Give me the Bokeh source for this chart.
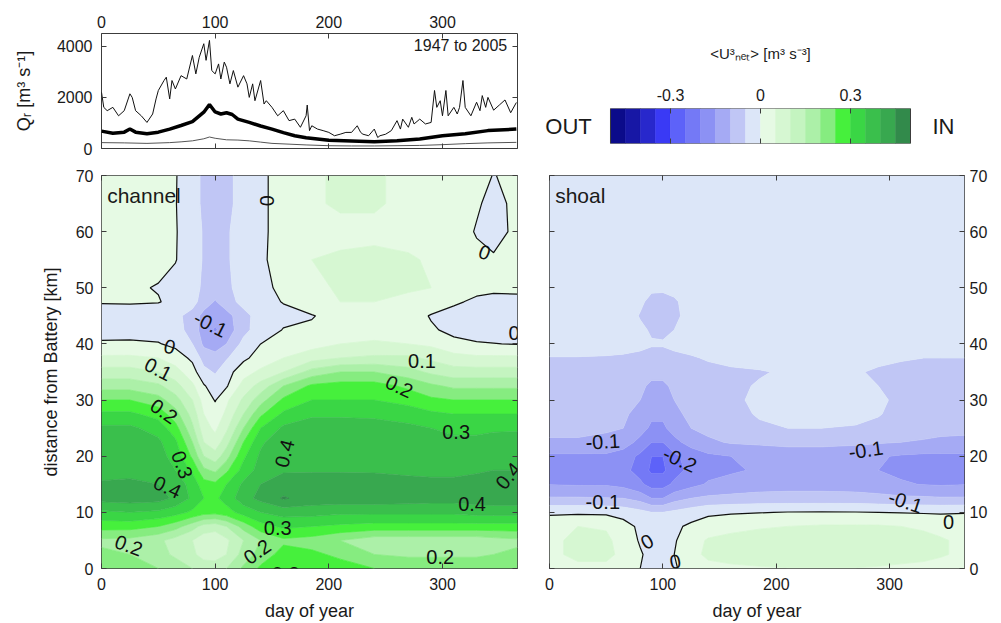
import numpy as np
from bokeh.plotting import figure
from bokeh.models import LinearAxis, Range1d, FixedTicker
from bokeh.layouts import row, column
from bokeh.embed import file_html
from bokeh.resources import INLINE
from bokeh.core.properties import value

FONT = "Liberation Sans"

# ---------------- river discharge Q_r (top panel) ----------------
q_max_day = [0,2,5,10,15,20,25,27,30,35,40,45,48,50,55,57,60,62,65,70,75,80,83,86,90,92,95,97,100,103,
             105,108,110,113,116,120,125,128,130,133,135,140,143,145,150,155,160,165,170,175,180,181,183,185,190,195,200,205,210,215,
             220,225,228,230,235,240,243,245,250,255,260,263,265,270,273,275,280,285,290,293,295,298,300,303,305,310,313,315,318,320,
             325,330,333,335,338,340,345,350,355,360,365]
q_max = [2200,1610,1480,1610,1280,1480,2140,2000,1480,1280,1020,1350,1940,2270,2660,2790,1940,2660,2330,2850,
         2720,3640,2920,3570,4100,3450,4230,3050,2920,3310,2720,3380,3180,2530,3050,2400,2850,2530,2000,2530,
         1870,2660,1740,1870,1610,1280,1480,1090,1150,830,1280,1700,700,890,760,700,630,500,560,630,
         630,890,630,560,500,760,430,500,560,700,1090,760,1150,830,1220,960,1150,960,1020,2270,
         1610,1870,1280,2270,1280,1610,1350,1610,2660,1610,1280,1810,1480,2070,1610,2000,1500,1700,1900,1400,1800]
q_mean_day = [0,10,20,25,30,40,50,60,70,80,90,95,100,105,110,115,120,130,140,150,160,170,180,200,220,240,260,280,300,320,340,365]
q_mean = [680,600,640,760,640,580,640,760,900,1050,1420,1720,1430,1350,1400,1330,1150,1020,880,760,620,500,420,320,290,260,300,370,500,580,700,760]
q_min_day = [0,20,40,60,70,80,90,95,100,110,120,130,140,150,165,180,200,220,240,260,280,300,320,340,365]
q_min = [230,220,200,230,260,300,380,450,400,340,330,300,250,200,170,140,110,100,100,110,120,150,190,220,240]

# ---------------- <U^3_net> grids (day of year x distance) ----------------
grid_day = [0,25,50,65,80,90,100,110,125,140,160,185,210,240,270,290,310,330,345,366]
grid_km = [0,2.5,5,7.5,10,12.5,15,17.5,20,22.5,25,27.5,30,32.5,35,37.5,40,42.5,45,47.5,50,55,60,65,70]

channel_u3 = [
    [0.24,0.23,0.20,0.18,0.15,0.13,0.13,0.15,0.21,0.26,0.30,0.29,0.27,0.25,0.24,0.24,0.24,0.24,0.24,0.24],
    [0.21,0.20,0.17,0.14,0.11,0.08,0.075,0.10,0.17,0.22,0.27,0.26,0.24,0.20,0.19,0.19,0.19,0.19,0.20,0.21],
    [0.19,0.185,0.16,0.13,0.10,0.07,0.065,0.09,0.15,0.20,0.24,0.23,0.20,0.17,0.17,0.17,0.17,0.17,0.18,0.19],
    [0.27,0.27,0.25,0.22,0.17,0.13,0.12,0.15,0.22,0.28,0.31,0.30,0.29,0.28,0.28,0.28,0.28,0.28,0.28,0.28],
    [0.34,0.35,0.34,0.32,0.29,0.27,0.265,0.28,0.32,0.35,0.37,0.37,0.36,0.36,0.36,0.36,0.36,0.37,0.37,0.37],
    [0.42,0.425,0.42,0.39,0.34,0.30,0.29,0.32,0.38,0.415,0.455,0.43,0.43,0.43,0.425,0.42,0.42,0.425,0.43,0.43],
    [0.405,0.41,0.40,0.38,0.33,0.27,0.26,0.30,0.36,0.40,0.42,0.425,0.425,0.42,0.415,0.41,0.41,0.415,0.42,0.42],
    [0.385,0.385,0.375,0.35,0.29,0.21,0.19,0.24,0.32,0.37,0.395,0.395,0.395,0.395,0.39,0.39,0.39,0.395,0.40,0.40],
    [0.39,0.39,0.37,0.33,0.24,0.15,0.12,0.18,0.29,0.36,0.39,0.395,0.39,0.385,0.385,0.38,0.38,0.38,0.385,0.39],
    [0.385,0.385,0.36,0.31,0.20,0.10,0.07,0.13,0.25,0.34,0.39,0.395,0.39,0.385,0.38,0.375,0.37,0.37,0.375,0.38],
    [0.36,0.36,0.33,0.27,0.16,0.07,0.04,0.09,0.20,0.30,0.36,0.38,0.38,0.37,0.36,0.35,0.33,0.33,0.34,0.34],
    [0.31,0.31,0.28,0.22,0.13,0.05,0.02,0.06,0.15,0.24,0.31,0.34,0.34,0.34,0.33,0.31,0.30,0.30,0.30,0.30],
    [0.25,0.25,0.22,0.17,0.10,0.03,-0.003,0.04,0.11,0.18,0.26,0.30,0.30,0.30,0.28,0.26,0.25,0.25,0.25,0.25],
    [0.18,0.18,0.16,0.12,0.06,0.005,-0.025,-0.005,0.07,0.12,0.20,0.26,0.27,0.27,0.24,0.21,0.19,0.19,0.19,0.19],
    [0.12,0.12,0.10,0.07,0.02,-0.035,-0.055,-0.02,0.03,0.06,0.10,0.17,0.20,0.20,0.17,0.14,0.12,0.12,0.12,0.12],
    [0.06,0.06,0.05,0.025,-0.01,-0.07,-0.085,-0.055,-0.01,0.02,0.05,0.08,0.10,0.11,0.11,0.09,0.07,0.06,0.06,0.06],
    [0.005,0.006,0.003,-0.012,-0.05,-0.11,-0.12,-0.10,-0.035,0.0,0.01,0.03,0.05,0.055,0.05,0.04,0.01,0.003,0.001,-0.002],
    [-0.015,-0.015,-0.02,-0.035,-0.065,-0.13,-0.155,-0.13,-0.065,-0.025,0.002,0.008,0.025,0.035,0.025,0.005,-0.01,-0.015,-0.015,-0.01],
    [-0.02,-0.02,-0.025,-0.04,-0.065,-0.12,-0.135,-0.12,-0.065,-0.03,-0.012,-0.003,0.02,0.035,0.02,-0.003,-0.02,-0.025,-0.025,-0.02],
    [0.003,0.004,0.002,-0.01,-0.035,-0.07,-0.105,-0.07,-0.035,-0.015,0.002,0.03,0.05,0.05,0.04,0.025,0.008,-0.01,-0.015,-0.012],
    [0.008,0.005,-0.002,-0.015,-0.03,-0.06,-0.075,-0.06,-0.03,-0.012,0.01,0.04,0.055,0.06,0.055,0.05,0.03,0.015,0.01,0.01],
    [0.025,0.02,0.01,0.002,-0.025,-0.055,-0.065,-0.055,-0.03,-0.01,0.025,0.05,0.055,0.06,0.055,0.045,0.03,0.01,0.005,0.01],
    [0.03,0.03,0.02,0.003,-0.025,-0.055,-0.065,-0.055,-0.03,-0.01,0.02,0.035,0.04,0.04,0.035,0.03,0.02,-0.003,-0.015,0.01],
    [0.03,0.03,0.02,0.002,-0.03,-0.06,-0.065,-0.06,-0.035,-0.01,0.02,0.045,0.055,0.055,0.04,0.03,0.025,0.005,-0.012,0.01],
    [0.03,0.03,0.02,0.003,-0.03,-0.06,-0.065,-0.06,-0.035,-0.01,0.02,0.045,0.055,0.055,0.04,0.03,0.03,0.02,-0.002,0.015],
]

shoal_u3 = [
    [0.03,0.04,0.04,0.03,0.0,-0.015,-0.02,-0.005,0.02,0.035,0.04,0.045,0.048,0.048,0.048,0.045,0.04,0.035,0.03,0.025],
    [0.04,0.06,0.06,0.04,0.005,-0.015,-0.02,0.0,0.035,0.06,0.07,0.075,0.08,0.08,0.08,0.075,0.07,0.065,0.055,0.04],
    [0.04,0.06,0.06,0.03,-0.005,-0.02,-0.02,-0.005,0.03,0.055,0.065,0.07,0.075,0.075,0.075,0.07,0.065,0.06,0.055,0.04],
    [0.03,0.05,0.045,0.02,-0.01,-0.03,-0.03,-0.01,0.01,0.025,0.035,0.045,0.05,0.055,0.055,0.055,0.05,0.045,0.035,0.025],
    [-0.008,-0.008,-0.01,-0.02,-0.035,-0.05,-0.05,-0.04,-0.025,-0.01,-0.005,-0.002,0.002,0.003,0.002,0.0,-0.002,-0.004,-0.005,-0.002],
    [-0.095,-0.095,-0.098,-0.1,-0.12,-0.15,-0.15,-0.12,-0.1,-0.09,-0.085,-0.08,-0.08,-0.08,-0.08,-0.085,-0.09,-0.092,-0.095,-0.095],
    [-0.152,-0.155,-0.155,-0.165,-0.19,-0.22,-0.22,-0.19,-0.165,-0.145,-0.135,-0.125,-0.12,-0.12,-0.125,-0.13,-0.145,-0.152,-0.155,-0.152],
    [-0.165,-0.17,-0.17,-0.185,-0.22,-0.26,-0.26,-0.22,-0.185,-0.165,-0.156,-0.145,-0.135,-0.135,-0.14,-0.15,-0.16,-0.165,-0.17,-0.165],
    [-0.16,-0.16,-0.16,-0.175,-0.21,-0.25,-0.25,-0.21,-0.18,-0.16,-0.15,-0.14,-0.13,-0.13,-0.135,-0.145,-0.155,-0.16,-0.16,-0.16],
    [-0.105,-0.105,-0.11,-0.125,-0.165,-0.2,-0.2,-0.165,-0.13,-0.11,-0.095,-0.09,-0.085,-0.085,-0.09,-0.095,-0.1,-0.105,-0.11,-0.11],
    [-0.09,-0.09,-0.095,-0.1,-0.13,-0.16,-0.16,-0.13,-0.1,-0.085,-0.07,-0.055,-0.05,-0.05,-0.052,-0.058,-0.07,-0.08,-0.085,-0.09],
    [-0.085,-0.085,-0.09,-0.095,-0.11,-0.14,-0.14,-0.11,-0.09,-0.075,-0.06,-0.047,-0.04,-0.04,-0.043,-0.048,-0.06,-0.07,-0.075,-0.08],
    [-0.08,-0.08,-0.085,-0.09,-0.1,-0.125,-0.125,-0.1,-0.08,-0.065,-0.055,-0.045,-0.04,-0.04,-0.042,-0.046,-0.055,-0.065,-0.07,-0.075],
    [-0.075,-0.075,-0.078,-0.082,-0.09,-0.11,-0.11,-0.09,-0.075,-0.065,-0.055,-0.048,-0.042,-0.042,-0.045,-0.05,-0.06,-0.065,-0.07,-0.075],
    [-0.06,-0.06,-0.062,-0.065,-0.075,-0.085,-0.085,-0.075,-0.062,-0.056,-0.053,-0.052,-0.047,-0.045,-0.048,-0.053,-0.056,-0.058,-0.06,-0.06],
    [-0.051,-0.051,-0.052,-0.053,-0.055,-0.058,-0.058,-0.055,-0.052,-0.048,-0.045,-0.04,-0.035,-0.035,-0.04,-0.045,-0.048,-0.05,-0.05,-0.05],
    [-0.04,-0.04,-0.04,-0.042,-0.045,-0.048,-0.048,-0.045,-0.042,-0.04,-0.038,-0.035,-0.032,-0.032,-0.035,-0.038,-0.04,-0.04,-0.04,-0.04],
    [-0.035,-0.035,-0.035,-0.038,-0.045,-0.053,-0.055,-0.05,-0.04,-0.035,-0.033,-0.03,-0.03,-0.03,-0.03,-0.032,-0.035,-0.035,-0.035,-0.035],
    [-0.033,-0.033,-0.033,-0.035,-0.052,-0.06,-0.06,-0.056,-0.04,-0.033,-0.03,-0.03,-0.03,-0.03,-0.03,-0.03,-0.033,-0.033,-0.033,-0.033],
    [-0.032,-0.032,-0.032,-0.033,-0.045,-0.058,-0.06,-0.055,-0.035,-0.032,-0.03,-0.03,-0.03,-0.03,-0.03,-0.03,-0.032,-0.032,-0.032,-0.032],
    [-0.03,-0.03,-0.03,-0.03,-0.035,-0.045,-0.045,-0.04,-0.03,-0.03,-0.03,-0.03,-0.03,-0.03,-0.03,-0.03,-0.03,-0.03,-0.03,-0.03],
    [-0.03,-0.03,-0.03,-0.03,-0.03,-0.03,-0.03,-0.03,-0.03,-0.03,-0.03,-0.03,-0.03,-0.03,-0.03,-0.03,-0.03,-0.03,-0.03,-0.03],
    [-0.03,-0.03,-0.03,-0.03,-0.03,-0.03,-0.03,-0.03,-0.03,-0.03,-0.03,-0.03,-0.03,-0.03,-0.03,-0.03,-0.03,-0.03,-0.03,-0.03],
    [-0.03,-0.03,-0.03,-0.03,-0.03,-0.03,-0.03,-0.03,-0.03,-0.03,-0.03,-0.03,-0.03,-0.03,-0.03,-0.03,-0.03,-0.03,-0.03,-0.03],
    [-0.03,-0.03,-0.03,-0.03,-0.03,-0.03,-0.03,-0.03,-0.03,-0.03,-0.03,-0.03,-0.03,-0.03,-0.03,-0.03,-0.03,-0.03,-0.03,-0.03],
]

levels = [-0.5,-0.45,-0.4,-0.35,-0.3,-0.25,-0.2,-0.15,-0.1,-0.05,0.0,
          0.05,0.1,0.15,0.2,0.25,0.3,0.35,0.4,0.45,0.5]
palette = ["#0B0B8A","#1717A5","#2828CC","#3A3AF5","#5D62F9","#7479F6","#8C91F4","#A5AAF4","#C0C6F5","#DCE6F8",
           "#E6FAE4","#D6F7D2","#C4F4C0","#ACF0A8","#86EC80","#46F03C","#3AD645","#3ABF4C","#38A84F","#328A4B"]

# tick values
day_ticks = [0, 100, 200, 300]
km_ticks = [0, 10, 20, 30, 40, 50, 60, 70]
q_ticks = [0, 2000, 4000]
cb_ticks = [-0.3, 0, 0.3]
cb_tick_text = {-0.3: "-0.3", 0: "0", 0.3: "0.3"}

# contour labels
ch_lab_text = ["0","-0.1","0","0.1","0.2","0.3","0.4","0.4","0.2","0.3","0.2","0.3","0.1","0.2","0.3","0.4","0.4","0.2","0","0"]
ch_lab_day = [146, 96, 60, 50, 55, 71, 58, 161, 24, 155, 137, 162, 282, 262, 312, 326, 358, 298, 337, 363]
ch_lab_km = [65.5, 43.5, 39.5, 35.5, 28.0, 18.5, 14.5, 20.5, 4.1, 7.3, 3.0, -0.9, 37.0, 32.4, 24.3, 11.4, 16.5, 2.1, 56.3, 42.0]
ch_lab_ang = [90, -27, -15, -27, -35, -70, -25, 75, -20, 0, 35, 0, 0, -25, 0, 0, 50, 0, -20, 0]

sh_lab_text = ["-0.1","-0.2","-0.1","-0.1","-0.1","0","0","0"]
sh_lab_day = [47, 115, 279, 47, 314, 352, 86, 111]
sh_lab_km = [22.6, 19.4, 21.1, 11.9, 11.9, 8.2, 4.8, 1.2]
sh_lab_ang = [3, -25, 8, 0, -18, 0, 30, 10]

FRAME = "#3c3c3c"
TXT = "#1a1a1a"


def make_fig(width, height, xr, yr, borders, **kw):
    p = figure(width=width, height=height, x_range=Range1d(*xr), y_range=Range1d(*yr),
               output_backend="svg", toolbar_location=None,
               min_border_left=borders[0], min_border_right=borders[1],
               min_border_top=borders[2], min_border_bottom=borders[3], **kw)
    p.frame_align = False
    p.grid.visible = False
    p.outline_line_color = FRAME
    p.outline_line_width = 1
    p.background_fill_color = "white"
    p.border_fill_color = "white"
    return p


def style(ax, ticks, labels=True, standoff=8):
    ax.ticker = FixedTicker(ticks=ticks)
    ax.major_tick_in = 5
    ax.major_tick_out = 0
    ax.minor_tick_line_color = None
    ax.axis_line_color = None
    ax.major_tick_line_color = FRAME
    ax.major_label_text_font = FONT
    ax.major_label_text_font_size = "16px"
    ax.major_label_text_color = TXT
    ax.major_label_standoff = standoff
    ax.axis_label_text_font = FONT
    ax.axis_label_text_font_size = "18px"
    ax.axis_label_text_font_style = "normal"
    ax.axis_label_text_color = TXT
    if not labels:
        ax.major_label_text_font_size = "1px"
        ax.major_label_text_color = None
        ax.major_label_standoff = 0


def add_axis(p, ticks, side):
    ax = LinearAxis()
    style(ax, ticks, labels=False)
    p.add_layout(ax, side)


# ---------------- top panel ----------------
q = make_fig(530, 160, (0, 366), (0, 4500), (101, 13, 33, 12),
             x_axis_location="above", y_axis_location="left")
style(q.xaxis[0], day_ticks, standoff=6)
style(q.yaxis[0], q_ticks, standoff=9)
q.yaxis[0].axis_label = "Qᵣ [m³ s⁻¹]"
q.yaxis[0].axis_label_standoff = 20
add_axis(q, day_ticks, "below")
add_axis(q, q_ticks, "right")
q.line(q_min_day, q_min, line_color="#555555", line_width=1)
q.line(q_max_day, q_max, line_color="#111111", line_width=1)
q.line(q_mean_day, q_mean, line_color="black", line_width=3.5)
q.text(x=[357], y=[4050], text=["1947 to 2005"], text_font=value(FONT), text_font_size="16px",
       text_align="right", text_baseline="middle", text_color=TXT)

# ---------------- colour bar ----------------
cb = make_fig(471, 160, (-0.7333, 0.7333), (0, 1), (10, 21, 108, 17),
              x_axis_location="above", y_axis_location=None, title="<U³ₙₑₜ> [m³ s⁻³]")
cb.outline_line_color = None
style(cb.xaxis[0], cb_ticks, standoff=8)
cb.xaxis[0].major_label_overrides = cb_tick_text
add_axis(cb, cb_ticks, "below")
cb.title.text_font = FONT
cb.title.text_font_size = "15px"
cb.title.text_font_style = "normal"
cb.title.text_color = TXT
cb.title.align = "center"
cb.title.standoff = 48
cb.quad(left=levels[:-1], right=levels[1:], bottom=0, top=1, fill_color=palette, line_color=palette, line_width=0.5)
cb.quad(left=[levels[0]], right=[levels[-1]], bottom=[0], top=[1], fill_color=None, line_color=FRAME, line_width=1)
cb.text(x=[-0.64, 0.61], y=[0.5, 0.5], text=["OUT", "IN"], text_font=value(FONT), text_font_size="22px",
        text_align="center", text_baseline="middle", text_color=TXT)

edge_colors = palette + [palette[-1]]


def contour_panel(p, z, lab_text, lab_day, lab_km, lab_ang):
    Z = np.array(z, dtype=float)
    X = np.array(grid_day, dtype=float)
    Y = np.array(grid_km, dtype=float)
    p.contour(x=X, y=Y, z=Z, levels=levels, fill_color=palette, line_color=edge_colors, line_width=0.8)
    p.contour(x=X, y=Y, z=Z, levels=[0.0], line_color="#111111", line_width=1.2)
    p.text(x=lab_day, y=lab_km, text=lab_text, angle=lab_ang, angle_units="deg",
           text_font=value(FONT), text_font_size="20px", text_align="center",
           text_baseline="middle", text_color="#111111")


# ---------------- channel ----------------
ch = make_fig(530, 463, (0, 366), (0, 70), (101, 13, 15, 54))
style(ch.xaxis[0], day_ticks, standoff=9)
style(ch.yaxis[0], km_ticks, standoff=8)
ch.xaxis[0].axis_label = "day of year"
ch.xaxis[0].axis_label_standoff = 8
ch.yaxis[0].axis_label = "distance from Battery [km]"
ch.yaxis[0].axis_label_standoff = 12
add_axis(ch, day_ticks, "above")
add_axis(ch, km_ticks, "right")
contour_panel(ch, channel_u3, ch_lab_text, ch_lab_day, ch_lab_km, ch_lab_ang)
ch.text(x=[5], y=[66.4], text=["channel"], text_font=value(FONT), text_font_size="21px",
        text_align="left", text_baseline="alphabetic", text_color=TXT)

# ---------------- shoal ----------------
sh = make_fig(471, 463, (0, 366), (0, 70), (19, 37, 15, 54), y_axis_location="right")
style(sh.xaxis[0], day_ticks, standoff=9)
style(sh.yaxis[0], km_ticks, standoff=5)
sh.xaxis[0].axis_label = "day of year"
sh.xaxis[0].axis_label_standoff = 8
add_axis(sh, day_ticks, "above")
add_axis(sh, km_ticks, "left")
contour_panel(sh, shoal_u3, sh_lab_text, sh_lab_day, sh_lab_km, sh_lab_ang)
sh.text(x=[5], y=[66.4], text=["shoal"], text_font=value(FONT), text_font_size="21px",
        text_align="left", text_baseline="alphabetic", text_color=TXT)

layout = column(row(q, cb), row(ch, sh))
open("out.html", "w").write(file_html(layout, INLINE, title="U3 net"))
